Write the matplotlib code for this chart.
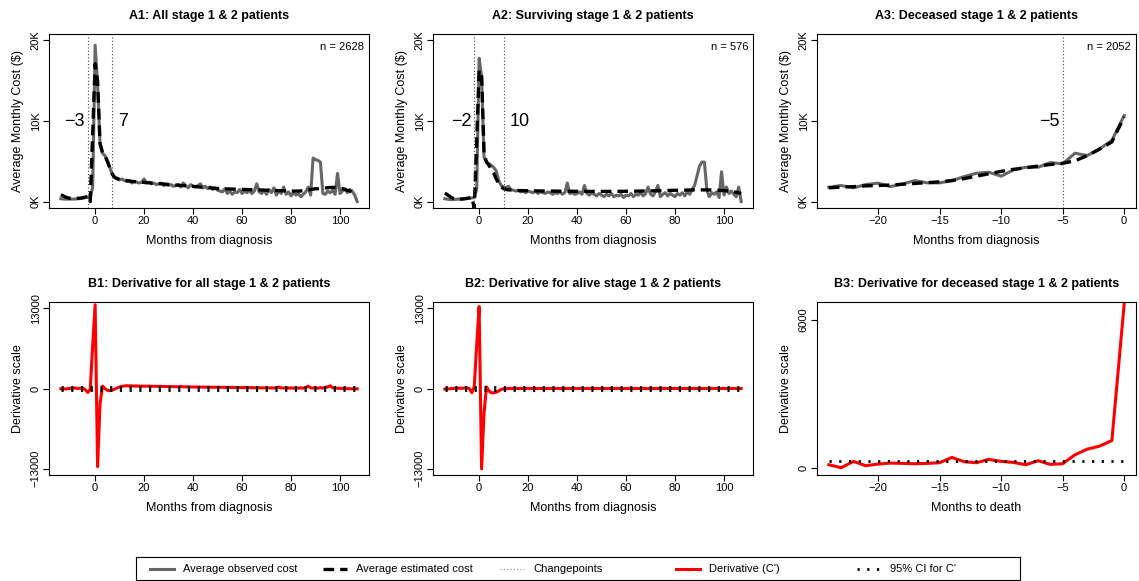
import matplotlib
matplotlib.use("Agg")
import matplotlib.pyplot as plt
import numpy as np

plt.rcParams['font.family'] = ['Liberation Sans', 'DejaVu Sans']

# months relative to diagnosis (A1, A2, B1, B2) and to death (A3, B3)
months_dx = np.arange(-14, 108)
months_death = np.arange(-24, 1)

# A1: all stage 1 & 2 patients
obs_all = [350, 320, 300, 300, 300, 300, 320, 350, 380, 420, 500, 550, 450, 1800,
           19400, 14500, 7200, 6000, 5700, 5000, 4200, 3400, 3000, 2800, 2700,
           2800, 2600, 2500, 2600, 2300, 2500, 2400, 2300, 2400, 2800,
           2300, 2400, 2200, 2300, 2100, 2200, 2300, 2000, 2100, 2000,
           2100, 1900, 2000, 2100, 1800, 2300, 2000, 1700, 2100, 1900,
           1800, 2000, 2200, 1700, 1900, 1600, 1800, 1500, 1700, 1400,
           1300, 1200, 1600, 1000, 1300, 900, 1200, 1100, 1500, 1000,
           1300, 1100, 1400, 1000, 1300, 2200, 1200, 1000, 1400, 900,
           1500, 1100, 1700, 800, 1300, 1000, 1800, 900, 1200, 700,
           1100, 800, 1000, 600, 900, 1200, 1800, 800, 5400, 5200,
           5100, 4900, 1000, 900, 1300, 1100, 1400, 900, 3500, 1000,
           1300, 1600, 1100, 1500, 1300, 800, 0]
est_all = [850, 700, 550, 450, 400, 380, 380, 400, 430, 480, 550, 650, 0, 8500,
           17100, 15000, 7200, 6100, 5700, 5000, 4200, 3400, 3000, 2850, 2750,
           2700, 2650, 2600, 2550, 2500, 2480, 2450, 2420, 2400, 2380,
           2350, 2330, 2300, 2280, 2250, 2230, 2200, 2180, 2150, 2130,
           2100, 2080, 2050, 2030, 2000, 1980, 1950, 1930, 1900, 1880,
           1850, 1830, 1800, 1780, 1750, 1730, 1700, 1680, 1650, 1630,
           1600, 1590, 1580, 1570, 1560, 1550, 1540, 1530, 1520, 1510,
           1500, 1490, 1480, 1470, 1460, 1450, 1440, 1430, 1420, 1410,
           1400, 1390, 1380, 1370, 1360, 1350, 1340, 1330, 1320, 1310,
           1300, 1300, 1300, 1320, 1350, 1400, 1450, 1500, 1550, 1580,
           1600, 1630, 1660, 1690, 1720, 1750, 1760, 1740, 1700, 1650,
           1600, 1500, 1400, 1300, 1200, 1050, 900]

# A2: surviving patients
obs_alive = [350, 300, 250, 250, 250, 300, 300, 300, 350, 400, 400, 450, 500, 1500,
             17800, 15500, 5500, 4900, 4700, 4500, 4200, 3800, 2600, 2000, 1800,
             1700, 1900, 1500, 1400, 1300, 1400, 1200, 1300, 1100, 1300,
             1200, 1100, 1300, 1000, 1200, 1100, 1000, 1200, 1100, 900,
             1100, 1000, 1200, 900, 1100, 2300, 1000, 1100, 900, 1000,
             1200, 900, 2000, 1000, 800, 1100, 900, 700, 1000, 800,
             600, 900, 700, 1000, 600, 800, 700, 900, 500, 800,
             700, 1000, 600, 900, 800, 1100, 700, 1000, 1800, 900,
             700, 1200, 2000, 600, 900, 1100, 700, 1000, 800, 600,
             1000, 800, 1100, 700, 1200, 900, 1500, 2000, 3200, 4400,
             4900, 4900, 1400, 600, 1100, 900, 1200, 500, 3700, 800,
             1800, 1000, 1300, 900, 600, 1800, 0]
est_alive = [1050, 850, 650, 450, 350, 300, 300, 320, 350, 380, 450, 550, -800, 7500,
             16300, 15800, 6000, 4900, 4500, 4000, 3500, 2800, 2200, 1800, 1600,
             1500, 1450, 1420, 1400, 1380, 1370, 1360, 1350, 1350, 1340,
             1340, 1330, 1330, 1320, 1320, 1310, 1310, 1300, 1300, 1300,
             1300, 1290, 1290, 1290, 1280, 1280, 1280, 1280, 1270, 1270,
             1270, 1270, 1270, 1260, 1260, 1260, 1260, 1260, 1260, 1260,
             1260, 1260, 1260, 1260, 1260, 1270, 1270, 1270, 1270, 1280,
             1280, 1280, 1290, 1290, 1300, 1300, 1310, 1310, 1320, 1320,
             1330, 1340, 1340, 1350, 1360, 1370, 1370, 1380, 1390, 1400,
             1400, 1410, 1420, 1420, 1430, 1430, 1440, 1440, 1440, 1450,
             1450, 1450, 1450, 1440, 1440, 1430, 1420, 1400, 1380, 1360,
             1330, 1300, 1250, 1200, 1150, 1080, 1000]

# A3: deceased patients, months before death
obs_dead = [1780, 1990, 1700, 2110, 2280, 1860, 2190, 2600, 2320, 2320, 2600,
            3100, 3520, 3640, 3150, 3930, 4260, 4260, 4840, 4680, 6000,
            5710, 6540, 7580, 10680]
est_dead = [1700, 1800, 1850, 1950, 2000, 2050, 2150, 2250, 2350, 2450, 2600,
            2850, 3150, 3450, 3750, 4000, 4200, 4400, 4600, 4750, 5060,
            5700, 6500, 7400, 10500]

# B1-B3: derivative of the estimated cost curve
deriv_all = [-50, -80, -60, -20, 30, 80, 60, 0, 60, 40, -200, -650, -100, 7000,
             13600, -12700, -2500, 400, 0, -300, -350, -250, -100, 100, 250,
             350, 420, 450, 430, 420, 400, 400, 390, 380, 380,
             370, 380, 360, 350, 360, 340, 330, 330, 320, 310,
             300, 300, 290, 280, 330, 280, 270, 260, 250, 250,
             240, 240, 230, 230, 220, 220, 210, 210, 200, 200,
             190, 190, 180, 180, 170, 170, 160, 160, 150, 150,
             150, 140, 140, 130, 130, 120, 120, 110, 110, 100,
             100, 100, 90, 90, 230, 90, 80, 80, 80, 70,
             70, 70, 60, 100, 60, 120, 380, 100, 80, 70,
             60, 150, 60, 200, 250, 450, 120, 60, 40, 20,
             0, -20, -30, -40, -50, -50, -50]
deriv_alive = [-100, -80, -40, 0, 30, 50, 40, 30, 60, 100, 0, -700, 270, 7000,
               13300, -13050, -4000, 270, -380, -700, -700, -600, -380, -160, -50,
               -20, -10, 0, 0, 0, 0, 0, 0, 0, 0,
               0, 0, 0, 0, 0, 0, 0, 0, 0, 0,
               0, 0, 0, 0, 0, 0, 0, 0, 0, 0,
               0, 0, 0, 0, 0, 0, 0, 0, 0, 0,
               0, 0, 0, 0, 0, 0, 0, 0, 0, 0,
               0, 0, 0, 0, 0, 0, 0, 0, 0, 0,
               0, 0, 0, 0, 0, 0, 0, 0, 0, 0,
               0, 0, 0, 0, 0, 0, 0, 0, 0, 0,
               0, 0, 0, 0, 0, 0, 0, 0, 0, 0,
               0, 0, 0, 0, 0, 0, 0]
deriv_dead = [134, 13, 268, 94, 161, 201, 188, 174, 188, 215, 430, 255, 215,
              349, 268, 228, 134, 295, 148, 174, 537, 765, 886, 1114, 6644]

# 95% CI bounds for the derivative (lower bound in B3 falls below the axis)
ci_all = (-300, 300)
ci_alive = (-300, 300)
ci_dead = (-450, 280)

changepoints = {'A1': [-3, 7], 'A2': [-2, 10], 'A3': [-5]}
n_patients = {'A1': 2628, 'A2': 576, 'A3': 2052}

GREY = '#666666'
RED = '#ff0000'
DASH = (0, (3.2, 1.8))
DOT_CI = (0, (0.8, 2.7))
DOT_CP = (0, (1, 2))

W, H = 1139, 581
fig = plt.figure(figsize=(W / 100, H / 100), dpi=100)


def rect(left, top, right, bottom):
    return [left / W, 1 - bottom / H, (right - left) / W, (bottom - top) / H]


def style(ax, title, xlabel, ylabel):
    ax.set_title(title, fontsize=9, fontweight='bold', pad=11)
    ax.set_xlabel(xlabel, fontsize=9, labelpad=6)
    ax.set_ylabel(ylabel, fontsize=9, labelpad=5)
    ax.tick_params(direction='out', length=4, width=0.8, labelsize=8, pad=2)
    for s in ax.spines.values():
        s.set_linewidth(0.8)


cols = [(49, 369), (433, 753), (817, 1136)]
top_row = (34, 208)
bot_row = (302, 475)

cost_panels = [
    ('A1', 'A1: All stage 1 & 2 patients', months_dx, obs_all, est_all),
    ('A2', 'A2: Surviving stage 1 & 2 patients', months_dx, obs_alive, est_alive),
    ('A3', 'A3: Deceased stage 1 & 2 patients', months_death, obs_dead, est_dead),
]
for (key, title, x, obs, est), (l, r) in zip(cost_panels, cols):
    ax = fig.add_axes(rect(l, top_row[0], r, top_row[1]))
    ax.plot(x, obs, color=GREY, lw=2.2, solid_joinstyle='round')
    ax.plot(x, est, color='black', lw=2.4, linestyle=DASH)
    for cp in changepoints[key]:
        ax.axvline(cp, color='#444444', lw=0.8, linestyle=DOT_CP)
        if cp < 0:
            ax.annotate('\u2212%d' % -cp, (cp, 10000), xytext=(-2, 0),
                        textcoords='offset points', ha='right', va='center', fontsize=13)
        else:
            ax.annotate('%d' % cp, (cp, 10000), xytext=(4, 0),
                        textcoords='offset points', ha='left', va='center', fontsize=13)
    ax.text(0.985, 0.925, 'n = %d' % n_patients[key], transform=ax.transAxes,
            ha='right', va='center', fontsize=8)
    span = x[-1] - x[0]
    ax.set_xlim(x[0] - 0.04 * span, x[-1] + 0.04 * span)
    ax.set_ylim(-800, 20800)
    ax.set_yticks([0, 10000, 20000])
    ax.set_yticklabels(['0K', '10K', '20K'], rotation=90, va='center')
    if key == 'A3':
        ax.set_xticks([-20, -15, -10, -5, 0])
    else:
        ax.set_xticks(range(0, 101, 20))
    style(ax, title, 'Months from diagnosis', 'Average Monthly Cost ($)')

deriv_panels = [
    ('B1: Derivative for all stage 1 & 2 patients', months_dx, deriv_all, ci_all,
     'Months from diagnosis'),
    ('B2: Derivative for alive stage 1 & 2 patients', months_dx, deriv_alive, ci_alive,
     'Months from diagnosis'),
    ('B3: Derivative for deceased stage 1 & 2 patients', months_death, deriv_dead, ci_dead,
     'Months to death'),
]
for i, ((title, x, d, ci, xlabel), (l, r)) in enumerate(zip(deriv_panels, cols)):
    ax = fig.add_axes(rect(l, bot_row[0], r, bot_row[1]))
    ax.plot(x, d, color=RED, lw=2.2)
    for bound in ci:
        ax.plot([x[0], x[-1]], [bound, bound], color='black', lw=2,
                linestyle=DOT_CI, dash_capstyle='butt')
    span = x[-1] - x[0]
    ax.set_xlim(x[0] - 0.04 * span, x[-1] + 0.04 * span)
    if i < 2:
        ax.set_ylim(-14040, 14040)
        ax.set_yticks([-13000, 0, 13000])
        ax.set_yticklabels(['\u221213000', '0', '13000'], rotation=90, va='center')
        ax.set_xticks(range(0, 101, 20))
    else:
        ax.set_ylim(-282, 6725)
        ax.set_yticks([0, 6000])
        ax.set_yticklabels(['0', '6000'], rotation=90, va='center')
        ax.set_xticks([-20, -15, -10, -5, 0])
    style(ax, title, xlabel, 'Derivative scale')

# shared legend along the bottom
lax = fig.add_axes(rect(136, 557, 1020, 580))
lax.set_xlim(136, 1020)
lax.set_ylim(0, 1)
lax.set_xticks([])
lax.set_yticks([])
for s in lax.spines.values():
    s.set_linewidth(0.8)
legend_items = [
    ('Average observed cost', dict(color=GREY, lw=2.2)),
    ('Average estimated cost', dict(color='black', lw=2.4, linestyle=DASH)),
    ('Changepoints', dict(color='#888888', lw=0.8, linestyle=DOT_CP)),
    ("Derivative (C')", dict(color=RED, lw=2.2)),
    ("95% CI for C'", dict(color='black', lw=2, linestyle=DOT_CI, dash_capstyle='butt')),
]
handle_x = [150, 323, 500, 676, 857]
for (label, kw), hx in zip(legend_items, handle_x):
    lax.plot([hx, hx + 24], [0.5, 0.5], **kw)
    lax.text(hx + 33, 0.5, label, fontsize=8, va='center', ha='left')

fig.savefig('out.png', dpi=100)
